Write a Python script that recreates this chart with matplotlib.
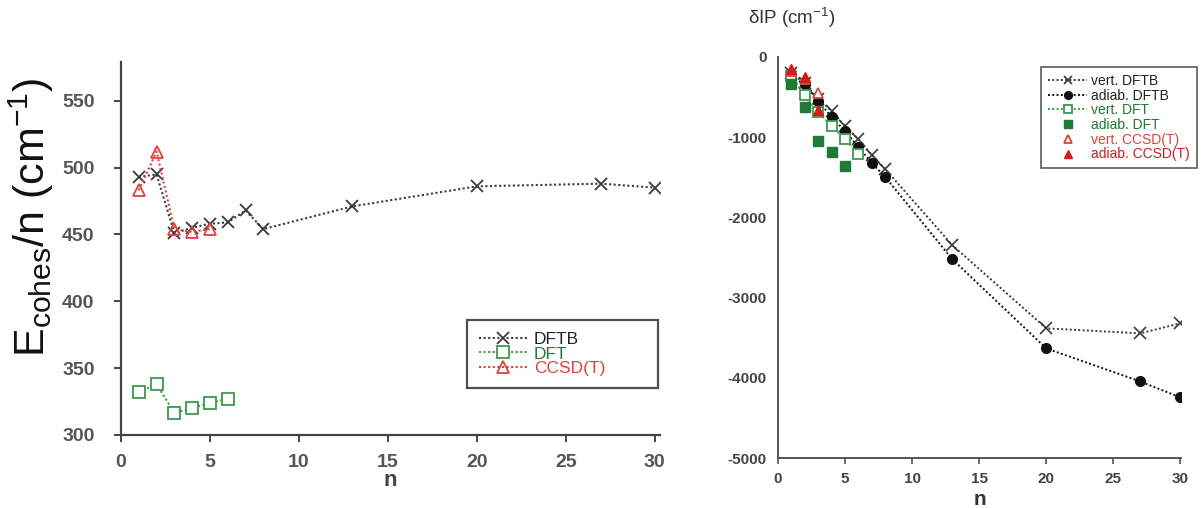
import matplotlib
matplotlib.use("Agg")
import matplotlib.pyplot as plt

plt.rcParams['font.family'] = ['Liberation Sans', 'DejaVu Sans']
plt.rcParams['mathtext.fontset'] = 'custom'
plt.rcParams['mathtext.rm'] = 'Liberation Sans'
plt.rcParams['mathtext.it'] = 'Liberation Sans:italic'
plt.rcParams['mathtext.bf'] = 'Liberation Sans:bold'
plt.rcParams['axes.unicode_minus'] = False

# ---- left panel data: cohesive energy per atom ----
n_dftb = [1, 2, 3, 4, 5, 6, 7, 8, 13, 20, 27, 30]
e_dftb = [493, 495, 451, 455, 458, 459, 468, 454, 471, 486, 488, 485]
n_dft = [1, 2, 3, 4, 5, 6]
e_dft = [332, 338, 316.5, 320, 324, 327]
n_cc = [1, 2, 3, 4, 5]
e_cc = [483, 512, 454, 452, 454]

# ---- right panel data: delta IP ----
n_vdftb = [1, 2, 3, 4, 5, 6, 7, 8, 13, 20, 27, 30]
ip_vdftb = [-200, -330, -520, -674, -861, -1024, -1223, -1398, -2347, -3383, -3446, -3321]
n_adftb = [1, 2, 3, 4, 5, 6, 7, 8, 13, 20, 27, 30]
ip_adftb = [-250, -337, -549, -749, -924, -1124, -1323, -1498, -2522, -3633, -4045, -4245]
n_vdft = [1, 2, 3, 4, 5, 6]
ip_vdft = [-237, -474, -687, -861, -1024, -1211]
n_adft = [1, 2, 3, 4, 5]
ip_adft = [-337, -624, -1049, -1186, -1361]
n_vcc = [1, 2, 3]
ip_vcc = [-180, -280, -449]
n_acc = [1, 2, 3]
ip_acc = [-150, -250, -655]

xticks = [0, 5, 10, 15, 20, 25, 30]
left_yticks = [300, 350, 400, 450, 500, 550]
right_yticks = [0, -1000, -2000, -3000, -4000, -5000]

C_DARK = '#3a3a3a'
C_GREEN = '#3c9a4e'
C_GREEN_D = '#1f7a35'
C_RED = '#d9443c'
C_RED_F = '#d01c1c'
DOT = (0, (1, 1.2))

fig = plt.figure(figsize=(12.02, 5.08), dpi=100)

# ---------------- left panel ----------------
ax1 = fig.add_axes([121/1202, 1-435/508, (660-121)/1202, (435-62)/508])
ax1.plot(n_dftb, e_dftb, linestyle=DOT, color=C_DARK, lw=1.5, marker='x',
         ms=8, mew=1.3, label='DFTB')
ax1.plot(n_dft, e_dft, linestyle=DOT, color=C_GREEN, lw=1.5, marker='s',
         ms=8, mfc='white', mew=1.3, label='DFT')
ax1.plot(n_cc, e_cc, linestyle=DOT, color=C_RED, lw=1.5, marker='^',
         ms=8, mfc='none', mew=1.3, label='CCSD(T)')
ax1.set_xlim(0, 30.3)
ax1.set_ylim(300, 579)
ax1.set_xticks(xticks)
ax1.set_yticks(left_yticks)
for s in ['top', 'right']:
    ax1.spines[s].set_visible(False)
for s in ['left', 'bottom']:
    ax1.spines[s].set_color('#444444')
    ax1.spines[s].set_linewidth(1.6)
ax1.tick_params(axis='both', direction='out', length=5, width=1.4, color='#444444',
                labelcolor='#555555', labelsize=14)
for lab in ax1.get_xticklabels() + ax1.get_yticklabels():
    lab.set_fontweight('bold')
ax1.tick_params(axis='y', pad=14)
ax1.tick_params(axis='x', pad=9)
ax1.set_xlabel('n', fontsize=16, fontweight='bold', color='#444444', labelpad=-1)
ax1.set_ylabel(r'E$_{\mathrm{cohes}}$/n (cm$^{-1}$)', fontsize=31, color='#111111')
ax1.yaxis.set_label_coords(-0.167, 0.585)
ax1.yaxis.label.set_va('center')
ax1.yaxis.label.set_ha('center')
leg1 = ax1.legend(loc='lower left', bbox_to_anchor=(0.642, 0.126, 0.354, 0.188),
                  mode='expand', fontsize=12.5,
                  frameon=True, fancybox=False, edgecolor='#222222',
                  handlelength=2.8, labelspacing=-0.05, borderpad=0.7,
                  handletextpad=0.35, borderaxespad=0)
leg1.get_frame().set_linewidth(1.6)
for t, c in zip(leg1.get_texts(), ['#222222', C_GREEN_D, C_RED]):
    t.set_color(c)

# ---------------- right panel ----------------
ax2 = fig.add_axes([778/1202, 1-458/508, (1181-778)/1202, (458-57)/508])
ax2.plot(n_vdftb, ip_vdftb, linestyle=DOT, color=C_DARK, lw=1.4, marker='x',
         ms=8, mew=1.2, label='vert. DFTB')
ax2.plot(n_adftb, ip_adftb, linestyle=DOT, color='#111111', lw=1.4, marker='o',
         ms=7, label='adiab. DFTB')
ax2.plot(n_vdft, ip_vdft, linestyle=DOT, color=C_GREEN, lw=1.4, marker='s',
         ms=7, mfc='white', mew=1.3, label='vert. DFT')
ax2.plot(n_adft, ip_adft, linestyle='none', color=C_GREEN_D, marker='s',
         ms=7, label='adiab. DFT')
ax2.plot(n_vcc, ip_vcc, linestyle='none', color=C_RED, marker='^',
         ms=7, mfc='white', mew=1.3, label='vert. CCSD(T)')
ax2.plot(n_acc, ip_acc, linestyle='none', color=C_RED_F, marker='^',
         ms=7, label='adiab. CCSD(T)')
ax2.set_xlim(0, 30.05)
ax2.set_ylim(-5000, 0)
ax2.set_xticks(xticks)
ax2.set_yticks(right_yticks)
for s in ['top', 'right']:
    ax2.spines[s].set_visible(False)
for s in ['left', 'bottom']:
    ax2.spines[s].set_color('#555555')
    ax2.spines[s].set_linewidth(1.4)
ax2.tick_params(axis='both', direction='out', length=4, width=1.2, color='#555555',
                labelcolor='#444444', labelsize=11)
ax2.tick_params(axis='x', pad=6)
ax2.tick_params(axis='y', length=0, pad=8)
for lab in ax2.get_xticklabels() + ax2.get_yticklabels():
    lab.set_fontweight('bold')
ax2.set_xlabel('n', fontsize=15, fontweight='bold', color='#333333', labelpad=3)
fig.text(748/1202, 1-18/508, r'δIP (cm$^{-1}$)', fontsize=13.5, color='#333333',
         ha='left', va='center')
leg2 = ax2.legend(loc='upper right', bbox_to_anchor=(1.04, 0.975), fontsize=10,
                  frameon=True, fancybox=False, edgecolor='#333333',
                  handlelength=2.8, labelspacing=0.05, borderpad=0.5,
                  handletextpad=0.3, borderaxespad=0, markerscale=0.8)
leg2.get_frame().set_linewidth(1.2)
for t, c in zip(leg2.get_texts(), ['#222222', '#222222', C_GREEN_D, C_GREEN_D, C_RED, C_RED_F]):
    t.set_color(c)

fig.savefig('out.png', dpi=100)
